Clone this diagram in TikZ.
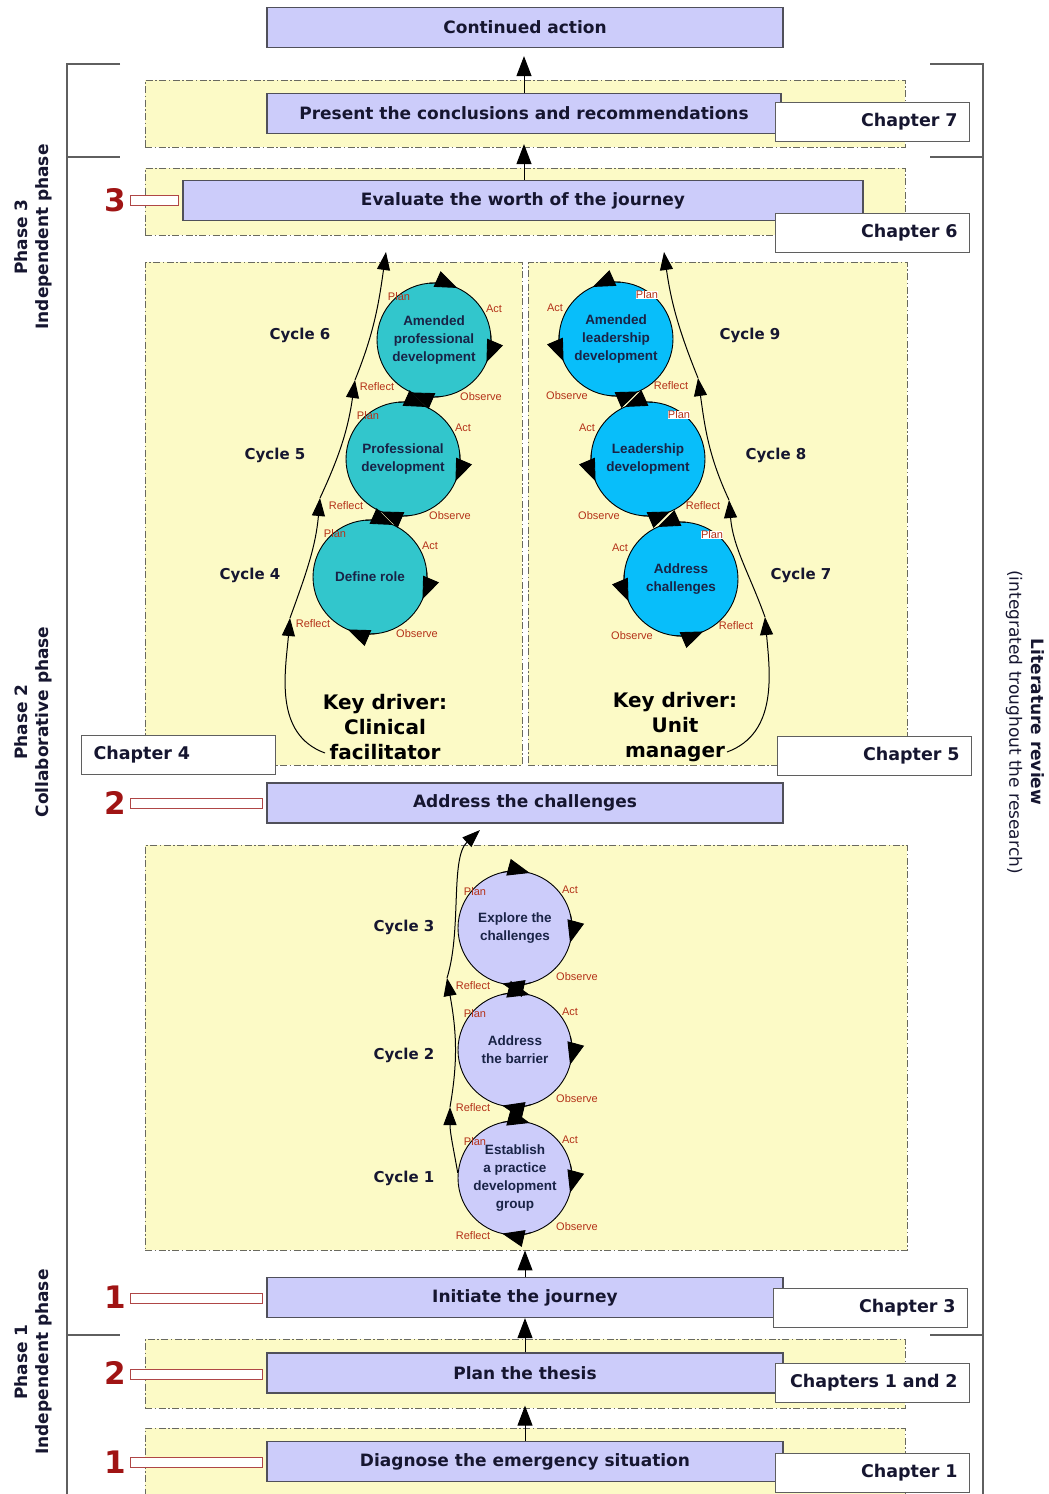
\documentclass[tikz,border=0pt]{standalone}
\usepackage{fontspec}
\setmainfont{DejaVu Sans}
\newfontfamily\circfont{Liberation Sans}
\usetikzlibrary{arrows.meta,calc}

\definecolor{panelfill}{RGB}{252,250,198}
\definecolor{panelline}{RGB}{105,105,95}
\definecolor{boxfill}{RGB}{204,204,250}
\definecolor{boxline}{RGB}{80,80,90}
\definecolor{ink}{RGB}{22,22,48}
\definecolor{circink}{RGB}{25,35,70}
\definecolor{numred}{RGB}{160,20,20}
\definecolor{barred}{RGB}{175,70,70}
\definecolor{tealfill}{RGB}{50,198,204}
\definecolor{skyfill}{RGB}{8,190,250}
\definecolor{lavfill}{RGB}{204,204,250}
\definecolor{steplabel}{RGB}{180,50,25}
\definecolor{bracketgray}{RGB}{95,95,95}

\begin{document}
\begin{tikzpicture}[x=1pt,y=1pt,
  panel/.style={draw=panelline, fill=panelfill, line width=0.9pt,
    dash pattern=on 7pt off 2.5pt on 1.5pt off 2.5pt, inner sep=0pt},
  stagebox/.style={draw=boxline, fill=boxfill, line width=1.2pt, inner sep=0pt,
    minimum height=40pt, text=ink, font=\fontsize{17}{20}\selectfont\bfseries},
  chapbox/.style={draw=bracketgray, fill=white, line width=1.2pt, anchor=north west,
    text width=170pt, inner xsep=12pt, inner ysep=0pt, minimum height=39pt,
    align=right, text=ink, font=\fontsize{17.5}{20}\selectfont\bfseries},
  chapboxleft/.style={chapbox, align=left},
  numlabel/.style={text=numred, font=\fontsize{31}{31}\selectfont\bfseries, inner sep=0pt},
  numbar/.style={draw=barred, fill=white, line width=1pt, minimum height=10pt, inner sep=0pt},
  mainarrow/.style={line width=1pt, -{Triangle[length=20pt,width=15pt]}},
  bracket/.style={draw=bracketgray, line width=1.5pt},
  phaselabel/.style={rotate=90, align=center, font=\fontsize{17}{21}\selectfont\bfseries, text=ink},
  cyclelabel/.style={font=\fontsize{15}{18}\selectfont\bfseries, text=ink},
  driver/.style={align=center, font=\fontsize{20}{25}\selectfont\bfseries, text=black},
  stepcircle/.style={circle, draw=black, line width=0.9pt, minimum size=114pt, inner sep=0pt,
    align=center, text=circink, font=\circfont\bfseries\fontsize{13.5}{18}\selectfont},
  steptag/.style={text=steplabel, font=\circfont\fontsize{11}{12}\selectfont, inner sep=0pt},
  spiral/.style={line width=1pt, -{Triangle[length=18pt,width=13pt]}},
  circtip/.style={line width=0.9pt, -{Triangle[length=22pt,width=17pt]}},
]
\useasboundingbox (0,0) rectangle (1049,-1494);
\fill[white] (0,0) rectangle (1049,-1494);

% ---------- yellow dash-dot panels ----------
\node[panel, minimum width=760pt, minimum height=67pt]  (p7) at (525,-113.5) {};
\node[panel, minimum width=760pt, minimum height=67pt]  (p6) at (525,-201.5) {};
\node[panel, minimum width=377pt, minimum height=503pt] (pL) at (333.5,-513.5) {};
\node[panel, minimum width=379pt, minimum height=503pt] (pR) at (717.5,-513.5) {};
\node[panel, minimum width=762pt, minimum height=405pt] (pB) at (526,-1047.5) {};
\node[panel, minimum width=760pt, minimum height=69pt]  (p2) at (525,-1373.5) {};
\node[panel, minimum width=760pt, minimum height=80pt]  (p1) at (525,-1468) {};

% ---------- phase brackets ----------
\draw[bracket] (120,-64) -- (67,-64) -- (67,-1500);
\draw[bracket] (67,-157) -- (120,-157);
\draw[bracket] (67,-1335) -- (120,-1335);
\draw[bracket] (930,-64) -- (983,-64) -- (983,-1500);
\draw[bracket] (983,-157) -- (930,-157);
\draw[bracket] (983,-1335) -- (930,-1335);

% ---------- stages ----------
\node[stagebox, minimum width=516pt] (cont) at (525,-27.5)   {Continued action};
\node[stagebox, minimum width=514pt] (pres) at (524,-113.5)  {Present the conclusions and recommendations};
\node[stagebox, minimum width=680pt] (eval) at (523,-200.5)  {Evaluate the worth of the journey};
\node[stagebox, minimum width=516pt] (addr) at (525,-803)    {Address the challenges};
\node[stagebox, minimum width=516pt] (init) at (525,-1297.5) {Initiate the journey};
\node[stagebox, minimum width=516pt] (plan) at (525,-1373)   {Plan the thesis};
\node[stagebox, minimum width=516pt] (diag) at (525,-1461.5) {Diagnose the emergency situation};

% ---------- chapters ----------
\node[chapbox]     (ch7)  at (775,-102)  {Chapter 7};
\node[chapbox]     (ch6)  at (775,-213)  {Chapter 6};
\node[chapboxleft] (ch4)  at (81,-735)   {Chapter 4};
\node[chapbox]     (ch5)  at (777,-736)  {Chapter 5};
\node[chapbox]     (ch3)  at (773,-1288) {Chapter 3};
\node[chapbox]     (ch12) at (775,-1363) {Chapters 1 and 2};
\node[chapbox]     (ch1)  at (775,-1453) {Chapter 1};

% ---------- step numbers ----------
\node[numlabel] (n3)  at (115,-200)  {3};
\node[numbar, minimum width=48pt]  (b3)  at (154,-200)  {};
\node[numlabel] (n2a) at (115,-803)  {2};
\node[numbar, minimum width=132pt] (b2a) at (196,-803)  {};
\node[numlabel] (n1a) at (115,-1297) {1};
\node[numbar, minimum width=132pt] (b1a) at (196,-1298) {};
\node[numlabel] (n2b) at (115,-1373) {2};
\node[numbar, minimum width=132pt] (b2b) at (196,-1374) {};
\node[numlabel] (n1b) at (115,-1462) {1};
\node[numbar, minimum width=132pt] (b1b) at (196,-1462) {};

% ---------- stage arrows ----------
\draw[mainarrow, shorten >=8pt]  (pres.north) -- (pres.north |- cont.south);
\draw[mainarrow, shorten >=10pt] (eval.north -| pres.north) -- (pres.south);
\draw[mainarrow] (init.north) -- (init.north |- pB.south);
\draw[mainarrow] (plan.north) -- (init.south);
\draw[mainarrow, shorten >=12pt] (diag.north) -- (plan.south);

% ---------- action research cycles ----------
\node[stepcircle, fill=tealfill] (c6) at (434,-340) {Amended\\professional\\development};
\node[stepcircle, fill=tealfill] (c5) at (403,-459) {Professional\\development};
\node[stepcircle, fill=tealfill] (c4) at (370,-577) {Define role};
\node[stepcircle, fill=skyfill]  (c9) at (616,-339) {Amended\\leadership\\development};
\node[stepcircle, fill=skyfill]  (c8) at (648,-459) {Leadership\\development};
\node[stepcircle, fill=skyfill]  (c7) at (681,-579) {Address\\challenges};
\node[stepcircle, fill=lavfill]  (c3) at (515,-928)  {Explore the\\challenges};
\node[stepcircle, fill=lavfill]  (c2) at (515,-1050) {Address\\the barrier};
\node[stepcircle, fill=lavfill]  (c1) at (515,-1178) {Establish\\a practice\\development\\group};

% clockwise arrowheads on each cycle
\foreach \c in {c4,c5,c6}
  \foreach \a in {77,-12,-102}
    \draw[circtip] ($(\c)+({\a+18}:57)$) arc[start angle={\a+18}, end angle={\a-11}, radius=57];
\foreach \c in {c1,c2,c3}
  \foreach \a in {86,-4,-92}
    \draw[circtip] ($(\c)+({\a+18}:57)$) arc[start angle={\a+18}, end angle={\a-11}, radius=57];
% counter-clockwise arrowheads on the mirrored cycles
\foreach \c in {c7,c8,c9}
  \foreach \a in {103,192,-78}
    \draw[circtip] ($(\c)+({\a-18}:57)$) arc[start angle={\a-18}, end angle={\a+11}, radius=57];

% plan / act / observe / reflect tags
\foreach \c in {c4,c5,c6} {
  \node[steptag] (\c-plan) at ($(\c)+(-35,43)$)  {Plan};
  \node[steptag] (\c-act)  at ($(\c)+(60,31)$)   {Act};
  \node[steptag] (\c-obs)  at ($(\c)+(47,-57)$)  {Observe};
  \node[steptag] (\c-ref)  at ($(\c)+(-57,-47)$) {Reflect};
}
\foreach \c in {c7,c8,c9} {
  \node[steptag, fill=white] (\c-plan) at ($(\c)+(31,44)$)   {Plan};
  \node[steptag] (\c-act)  at ($(\c)+(-61,31)$)  {Act};
  \node[steptag] (\c-obs)  at ($(\c)+(-49,-57)$) {Observe};
  \node[steptag] (\c-ref)  at ($(\c)+(55,-47)$)  {Reflect};
}
\foreach \c in {c1,c2,c3} {
  \node[steptag] (\c-plan) at ($(\c)+(-40,36)$)  {Plan};
  \node[steptag] (\c-act)  at ($(\c)+(55,38)$)   {Act};
  \node[steptag] (\c-obs)  at ($(\c)+(62,-49)$)  {Observe};
  \node[steptag] (\c-ref)  at ($(\c)+(-42,-58)$) {Reflect};
}

% cycle names
\node[cyclelabel] (cy6) at (300,-335)  {Cycle 6};
\node[cyclelabel] (cy5) at (275,-455)  {Cycle 5};
\node[cyclelabel] (cy4) at (250,-575)  {Cycle 4};
\node[cyclelabel] (cy9) at (750,-335)  {Cycle 9};
\node[cyclelabel] (cy8) at (776,-455)  {Cycle 8};
\node[cyclelabel] (cy7) at (801,-575)  {Cycle 7};
\node[cyclelabel] (cy3) at (404,-927)  {Cycle 3};
\node[cyclelabel] (cy2) at (404,-1055) {Cycle 2};
\node[cyclelabel] (cy1) at (404,-1178) {Cycle 1};

% key drivers
\node[driver] (drvL) at (385,-727) {Key driver:\\Clinical\\facilitator};
\node[driver] (drvR) at (675,-727) {Key driver:\\Unit\\manager};

% ---------- spiral paths through the cycles ----------
\coordinate (L0) at (325,-753);
\coordinate (L1) at (290,-618);
\coordinate (L2) at (320,-498);
\coordinate (L3) at (355,-380);
\coordinate (L4) at (386,-252);
\draw[spiral] (L0) to[out=160,in=265] (L1);
\draw[spiral] (L1) to[out=70,in=265] (L2);
\draw[spiral] (L2) to[out=65,in=262] (L3);
\draw[spiral] (L3) to[out=68,in=262] (L4);

\coordinate (R0) at (727,-752);
\coordinate (R1) at (765,-617);
\coordinate (R2) at (729,-500);
\coordinate (R3) at (698,-378);
\coordinate (R4) at (664,-252);
\draw[spiral] (R0) to[out=20,in=275] (R1);
\draw[spiral] (R1) to[out=110,in=275] (R2);
\draw[spiral] (R2) to[out=115,in=278] (R3);
\draw[spiral] (R3) to[out=112,in=278] (R4);

\coordinate (B1) at (450,-1107);
\coordinate (B2) at (447,-978);
\coordinate (B3) at (480,-830);
\draw[spiral] (c1.175) to[out=100,in=270] (B1);
\draw[spiral] (B1) to[out=80,in=280] (B2);
\draw[spiral] (B2) .. controls (462,-930) and (450,-858) .. (B3);

% ---------- side labels ----------
\node[phaselabel] (ph3) at (33,-237)  {Phase 3\\Independent phase};
\node[phaselabel] (ph2) at (33,-722)  {Phase 2\\Collaborative phase};
\node[phaselabel] (ph1) at (33,-1362) {Phase 1\\Independent phase};
\node[rotate=-90, align=center, text=ink, font=\fontsize{17}{22}\selectfont] (lit) at (1025,-722)
  {\textbf{Literature review}\\(integrated troughout the research)};
\end{tikzpicture}
\end{document}
